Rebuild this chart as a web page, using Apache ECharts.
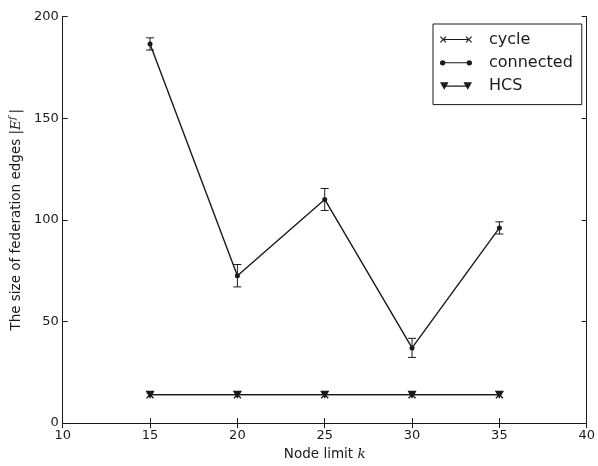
<!DOCTYPE html>
<html><head><meta charset="utf-8">
<script src="https://cdn.jsdelivr.net/npm/echarts@6/dist/echarts.min.js"></script>
<style>html,body{margin:0;padding:0;background:#fff}#c{width:598px;height:466px}</style>
</head><body><div id="c"></div>
<script>
const nodeLimits = [15, 20, 25, 30, 35];
const cycleValues = [14, 14, 14, 14, 14];
const connectedValues = [186.5, 72.5, 110, 37, 96];
const connectedErrors = [3, 5.5, 5.4, 4.7, 3];
const hcsValues = [14, 14, 14, 14, 14];
const seriesNames = ['cycle', 'connected', 'HCS'];

const INK = '#1a1a1a';
const FONT = 'DejaVu Sans';

function pairs(xs, ys) { return xs.map((x, i) => [x, ys[i]]); }

function xPoly(cx, cy, h, t) {
  const p = [[cx-h,cy-h+t],[cx-h+t,cy-h],[cx,cy-t],[cx+h-t,cy-h],[cx+h,cy-h+t],[cx+t,cy],
             [cx+h,cy+h-t],[cx+h-t,cy+h],[cx,cy+t],[cx-h+t,cy+h],[cx-h,cy+h-t],[cx-t,cy]];
  return 'M' + p.map(q => q[0] + ',' + q[1]).join(' L') + ' Z';
}
const iconCycle = 'path://M3,5.5 L27,5.5 L27,6.5 L3,6.5 Z ' + xPoly(3, 6, 3, 0.75) + ' ' + xPoly(27, 6, 3, 0.75);
const iconConnected = 'path://M2.5,5.5 L27.5,5.5 L27.5,6.5 L2.5,6.5 Z M0,6 A2.5,2.5 0 1,1 5,6 A2.5,2.5 0 1,1 0,6 Z M25,6 A2.5,2.5 0 1,1 30,6 A2.5,2.5 0 1,1 25,6 Z';
const iconHCS = 'path://M4,5.5 L26,5.5 L26,6.5 L4,6.5 Z M0,2.5 L8,2.5 L4,9.5 Z M22,2.5 L30,2.5 L26,9.5 Z';
const symX = 'path://' + xPoly(5, 5, 5, 1.2);

const errData = nodeLimits.map((k, i) => [k, connectedValues[i] - connectedErrors[i], connectedValues[i] + connectedErrors[i]]);

const chart = echarts.init(document.getElementById('c'));
const axisCommon = {
  type: 'value',
  axisLine: { show: true, lineStyle: { color: INK, width: 1 } },
  axisTick: { show: true, inside: true, length: 5, lineStyle: { color: INK, width: 1 } },
  splitLine: { show: false },
  axisLabel: { color: INK, fontFamily: FONT, fontSize: 13 }
};
chart.setOption({
  animation: false,
  backgroundColor: '#fff',
  grid: { left: 61.5, right: 9, top: 16.5, bottom: 42.5 },
  xAxis: [
    Object.assign({}, axisCommon, {
      min: 10, max: 40, interval: 5, position: 'bottom',
      axisLabel: { color: INK, fontFamily: FONT, fontSize: 13, margin: 6, showMinLabel: true, showMaxLabel: true },
      name: 'Node limit {i|k}', nameLocation: 'middle', nameGap: 22,
      nameTextStyle: { color: INK, fontFamily: FONT, fontSize: 13.5,
        rich: { i: { fontFamily: 'DejaVu Serif', fontStyle: 'italic', fontSize: 13.5, color: INK } } }
    }),
    Object.assign({}, axisCommon, { min: 10, max: 40, interval: 5, position: 'top', axisLabel: { show: false } })
  ],
  yAxis: [
    Object.assign({}, axisCommon, {
      min: 0, max: 200, interval: 50, position: 'left',
      axisLabel: { color: INK, fontFamily: FONT, fontSize: 13, margin: 4 },
      name: 'The size of federation edges |{i|E}{s|f}|', nameLocation: 'middle', nameGap: 36, nameRotate: 90,
      nameTextStyle: { color: INK, fontFamily: FONT, fontSize: 13.5,
        rich: { i: { fontFamily: 'DejaVu Serif', fontStyle: 'italic', fontSize: 13.5, color: INK },
                s: { fontFamily: 'DejaVu Serif', fontStyle: 'italic', fontSize: 9.5, color: INK, verticalAlign: 'top', padding: [0, 3, 6, 0] } } }
    }),
    Object.assign({}, axisCommon, { min: 0, max: 200, interval: 50, position: 'right', axisLabel: { show: false } })
  ],
  legend: {
    orient: 'vertical', left: 433, top: 24,
    padding: [7.5, 9, 10.5, 7],
    borderColor: INK, borderWidth: 1, borderRadius: 0,
    itemWidth: 32, itemHeight: 12, itemGap: 7.3,
    symbolKeepAspect: true,
    itemStyle: { borderWidth: 0 },
    textStyle: { color: INK, fontFamily: FONT, fontSize: 16, lineHeight: 16, padding: [0, 0, 0, 12] },
    data: [
      { name: 'cycle', icon: iconCycle },
      { name: 'connected', icon: iconConnected },
      { name: 'HCS', icon: iconHCS }
    ]
  },
  series: [
    {
      type: 'custom', name: 'err', silent: true, z: 2,
      data: errData,
      renderItem: function (params, api) {
        const x = api.value(0);
        const lo = api.coord([x, api.value(1)]);
        const hi = api.coord([x, api.value(2)]);
        const w = 4;
        const st = { stroke: INK, lineWidth: 1 };
        return { type: 'group', children: [
          { type: 'line', shape: { x1: lo[0], y1: lo[1], x2: hi[0], y2: hi[1] }, style: st },
          { type: 'line', shape: { x1: lo[0] - w, y1: lo[1], x2: lo[0] + w, y2: lo[1] }, style: st },
          { type: 'line', shape: { x1: hi[0] - w, y1: hi[1], x2: hi[0] + w, y2: hi[1] }, style: st }
        ] };
      }
    },
    {
      type: 'line', name: 'cycle', data: pairs(nodeLimits, cycleValues), z: 3,
      symbol: symX, symbolSize: 8, showAllSymbol: true,
      lineStyle: { color: INK, width: 1.4 }, itemStyle: { color: INK }
    },
    {
      type: 'line', name: 'connected', data: pairs(nodeLimits, connectedValues), z: 4,
      symbol: 'circle', symbolSize: 5, showAllSymbol: true,
      lineStyle: { color: INK, width: 1.4 }, itemStyle: { color: INK, borderWidth: 0 }
    },
    {
      type: 'line', name: 'HCS', data: pairs(nodeLimits, hcsValues), z: 3,
      symbol: 'path://M0,0 L10,0 L5,9 Z', symbolSize: [9, 8], showAllSymbol: true,
      lineStyle: { color: INK, width: 1.4 }, itemStyle: { color: INK }
    }
  ]
});
</script></body></html>
